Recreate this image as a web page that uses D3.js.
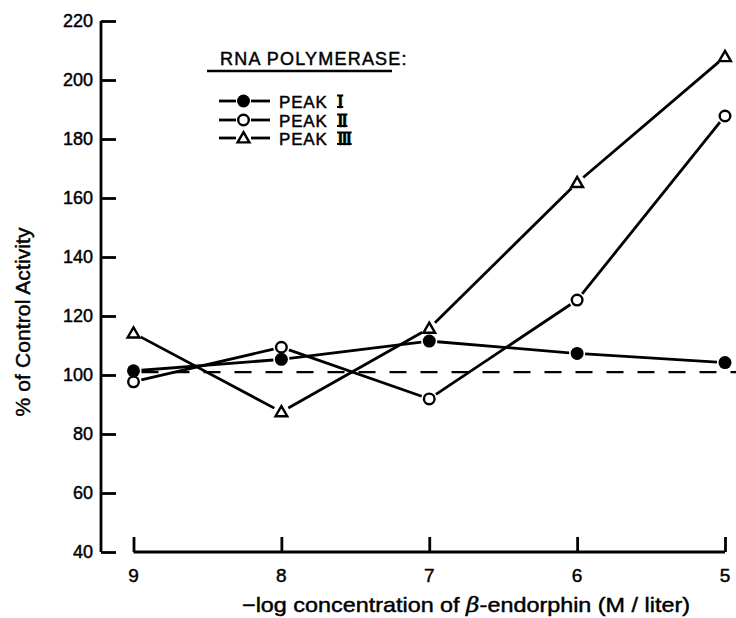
<!DOCTYPE html>
<html><head><meta charset="utf-8">
<script src="https://cdn.jsdelivr.net/npm/d3@7"></script>
<style>body{margin:0;background:#fff}svg{display:block}text{font-family:"Liberation Sans",Arial,sans-serif;fill:#000;stroke:#000;stroke-width:0.45px}</style>
</head><body><svg id="c" width="736" height="618"></svg>
<script>
const concentrations = [9, 8, 7, 6, 5];
const peakI   = [101.4, 105.3, 111.5, 107.3, 104.2];
const peakII  = [97.7, 109.4, 91.9, 125.4, 187.8];
const peakIII = [114.2, 87.5, 115.8, 165.2, 207.9];
const yTicks = [40, 60, 80, 100, 120, 140, 160, 180, 200, 220];
const xTicks = [9, 8, 7, 6, 5];
const controlLevel = 101;
const seriesNames = ["PEAK", "PEAK", "PEAK"];
const romanNumerals = ["I", "II", "III"];

const svg = d3.select("#c");
const x = d3.scaleLinear().domain([9, 5]).range([133.5, 725]);
const y = d3.scaleLinear().domain([40, 220]).range([552, 21]);
const sw = 2.8;

// Y axis
const yAxis = d3.axisRight(y).tickValues(yTicks).tickSize(15).tickFormat("");
const gy = svg.append("g").attr("transform", "translate(101,0)").call(yAxis);
gy.select(".domain").attr("d", `M0,${y(220)}V${y(40)}`).attr("stroke-width", sw);
gy.selectAll(".tick line").attr("stroke-width", sw);
svg.append("g").selectAll("text").data(yTicks).join("text")
  .attr("x", 93).attr("y", d => y(d)).attr("dy", "0.36em")
  .attr("text-anchor", "end").attr("font-size", 18).text(d => d);

// X axis
const xAxis = d3.axisTop(x).tickValues(xTicks).tickSize(15).tickFormat("");
const gx = svg.append("g").attr("transform", `translate(0,${y(40)})`).call(xAxis);
gx.select(".domain").attr("d", `M${x(9)},0H${x(5)}`).attr("stroke-width", sw);
gx.selectAll(".tick line").attr("stroke-width", sw);
svg.append("g").selectAll("text").data(xTicks).join("text")
  .attr("x", d => x(d)).attr("y", 582).attr("text-anchor", "middle")
  .attr("font-size", 19).text(d => d);

// Titles
svg.append("text").attr("transform", "translate(30,322) rotate(-90)")
  .attr("text-anchor", "middle").attr("font-size", 21)
  .attr("textLength", 189).attr("lengthAdjust", "spacing").text("% of  Control  Activity");
const xt = svg.append("text").attr("x", 242).attr("y", 612)
  .attr("font-size", 21).attr("textLength", 448).attr("lengthAdjust", "spacingAndGlyphs");
xt.append("tspan").text("\u2212log concentration of ");
xt.append("tspan").attr("font-style", "italic").attr("font-family", "DejaVu Serif").text("\u03b2");
xt.append("tspan").text("-endorphin (M / liter)");

// Dashed control line
svg.append("line").attr("x1", x(9) + 8).attr("x2", 736)
  .attr("y1", y(controlLevel)).attr("y2", y(controlLevel))
  .attr("stroke", "#000").attr("stroke-width", 2.2).attr("stroke-dasharray", "17,14");

// Series lines with gaps near markers
const series = [
  {vals: peakI, marker: "filled"},
  {vals: peakII, marker: "open"},
  {vals: peakIII, marker: "tri"}
];
const gap = 8;
series.forEach(s => {
  const pts = concentrations.map((c, i) => [x(c), y(s.vals[i])]);
  const g = svg.append("g");
  for (let i = 0; i < pts.length - 1; i++) {
    const [x1, y1] = pts[i], [x2, y2] = pts[i + 1];
    const L = Math.hypot(x2 - x1, y2 - y1), ux = (x2 - x1) / L, uy = (y2 - y1) / L;
    g.append("line").attr("x1", x1 + ux * gap).attr("y1", y1 + uy * gap)
      .attr("x2", x2 - ux * gap).attr("y2", y2 - uy * gap)
      .attr("stroke", "#000").attr("stroke-width", sw);
  }
  pts.forEach(p => drawMarker(svg, s.marker, p[0], p[1]));
});

function drawMarker(sel, type, cx, cy) {
  if (type === "filled") sel.append("circle").attr("cx", cx).attr("cy", cy).attr("r", 6.5).attr("fill", "#000");
  else if (type === "open") sel.append("circle").attr("cx", cx).attr("cy", cy).attr("r", 5.3)
    .attr("fill", "#fff").attr("stroke", "#000").attr("stroke-width", 2.4);
  else sel.append("path").attr("d", d3.symbol(d3.symbolTriangle, 60)()).attr("transform", `translate(${cx},${cy + 1})`)
    .attr("fill", "#fff").attr("stroke", "#000").attr("stroke-width", 2.4);
}

// Legend
svg.append("text").attr("x", 220).attr("y", 65).attr("font-size", 18).attr("letter-spacing", 1.2)
  .text("RNA POLYMERASE:");
svg.append("line").attr("x1", 207).attr("x2", 392).attr("y1", 71).attr("y2", 71)
  .attr("stroke", "#000").attr("stroke-width", 2.4);
const legY = [101, 120, 138];
series.forEach((s, i) => {
  const ly = legY[i];
  svg.append("line").attr("x1", 219).attr("x2", 236).attr("y1", ly).attr("y2", ly).attr("stroke", "#000").attr("stroke-width", sw);
  svg.append("line").attr("x1", 251).attr("x2", 270).attr("y1", ly).attr("y2", ly).attr("stroke", "#000").attr("stroke-width", sw);
  drawMarker(svg, s.marker, 243.5, ly);
  svg.append("text").attr("x", 279).attr("y", ly + 6.5).attr("font-size", 17).attr("letter-spacing", 0.8).text(seriesNames[i]);
  const rt = svg.append("text").attr("x", 338).attr("y", ly + 6.5).attr("font-size", 17)
    .attr("font-family", "Liberation Serif").attr("font-weight", "bold").attr("letter-spacing", -0.5)
    .text(romanNumerals[i]);
  const bb = rt.node().getBBox();
  [ly - 5.5, ly + 6].forEach(by => svg.append("line").attr("x1", bb.x - 1).attr("x2", bb.x + bb.width + 1)
    .attr("y1", by).attr("y2", by).attr("stroke", "#000").attr("stroke-width", 2));
});
</script></body></html>
